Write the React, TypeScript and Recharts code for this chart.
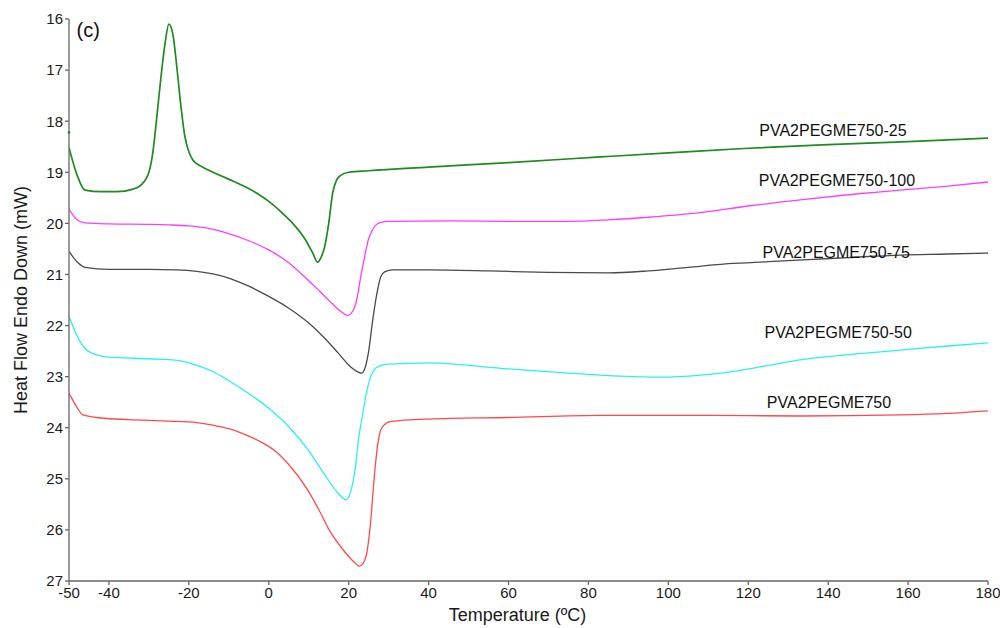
import { LineChart, Line, XAxis, YAxis, ReferenceDot } from 'recharts'

// --- Data ---

const xTicks = [-50, -40, -20, 0, 20, 40, 60, 80, 100, 120, 140, 160, 180]
const yTicks = [16, 17, 18, 19, 20, 21, 22, 23, 24, 25, 26, 27]

const greenT = [-50, -48, -46, -42, -38, -34, -32, -30, -29, -28, -27, -26, -25, -24, -23, -22, -21, -20, -19, -17, -15, -12, -9, -6, -3, 0, 3, 6, 9, 11, 12.2, 13, 14, 15, 16, 17, 18, 20, 25, 40, 60, 83, 100, 120, 140, 160, 180]
const greenV = [18.52, 19.05, 19.35, 19.38, 19.38, 19.33, 19.25, 19.0, 18.6, 17.9, 17.15, 16.5, 16.1, 16.3, 16.95, 17.7, 18.3, 18.6, 18.76, 18.88, 18.96, 19.07, 19.17, 19.28, 19.41, 19.57, 19.77, 20.0, 20.3, 20.58, 20.76, 20.68, 20.45, 20.0, 19.4, 19.15, 19.06, 19.0, 18.97, 18.9, 18.81, 18.7, 18.62, 18.53, 18.46, 18.4, 18.33]

const magentaT = [-50, -48, -46, -40, -30, -25, -20, -15, -10, -5, 0, 5, 9, 13, 16, 18, 19.7, 21, 22, 23, 24, 25, 26, 27, 28, 30, 45, 60, 75, 85, 95, 108, 120, 133, 145, 158, 170, 180]
const magentaV = [19.72, 19.93, 19.99, 20.01, 20.02, 20.03, 20.05, 20.1, 20.2, 20.34, 20.52, 20.77, 21.05, 21.35, 21.58, 21.72, 21.8, 21.72, 21.5, 21.05, 20.65, 20.3, 20.12, 20.02, 19.98, 19.96, 19.95, 19.96, 19.96, 19.93, 19.88, 19.79, 19.66, 19.54, 19.44, 19.35, 19.27, 19.19]

const blackT = [-50, -48, -46, -40, -30, -23, -18, -14, -10, -5, 0, 5, 10, 14, 17.5, 20.5, 23.2, 24, 25, 26, 27, 28, 29, 31, 40, 55, 70, 85, 95, 105, 115, 125, 135, 145, 158, 170, 180]
const blackV = [20.55, 20.75, 20.86, 20.9, 20.9, 20.91, 20.94, 20.99, 21.07, 21.23, 21.43, 21.66, 21.95, 22.25, 22.55, 22.81, 22.93, 22.85, 22.5, 21.9, 21.4, 21.05, 20.95, 20.91, 20.91, 20.93, 20.96, 20.97, 20.93, 20.86, 20.79, 20.75, 20.71, 20.67, 20.62, 20.6, 20.58]

const cyanT = [-50, -48, -46, -44, -40, -30, -23, -18, -14, -10, -5, 0, 5, 10, 14, 17, 19.4, 20.5, 21.7, 22.5, 23.4, 24.5, 25.5, 27, 29, 40, 60, 75, 88, 98, 108, 116, 125, 133, 145, 158, 170, 180]
const cyanV = [21.82, 22.2, 22.45, 22.55, 22.62, 22.65, 22.68, 22.78, 22.9, 23.08, 23.33, 23.62, 23.98, 24.45, 24.92, 25.25, 25.41, 25.25, 24.76, 24.2, 23.78, 23.3, 23.0, 22.82, 22.76, 22.73, 22.85, 22.93, 22.99, 23.01, 22.97, 22.9, 22.78, 22.67, 22.57, 22.48, 22.4, 22.34]

const redT = [-50, -48, -46.5, -42, -35, -25, -18, -14, -10, -7, -4, -1, 2, 5, 9.6, 12.5, 15.4, 18, 20, 21.5, 22.7, 23.6, 24.4, 25, 25.6, 26.2, 27.1, 27.8, 28.6, 30.4, 40, 60, 83, 110, 133, 158, 170, 180]
const redV = [23.32, 23.6, 23.75, 23.81, 23.84, 23.87, 23.9, 23.95, 24.02, 24.1, 24.2, 24.32, 24.48, 24.72, 25.2, 25.6, 26.04, 26.33, 26.52, 26.64, 26.71, 26.66, 26.5, 26.2, 25.75, 25.15, 24.43, 24.1, 23.97, 23.88, 23.83, 23.8, 23.76, 23.76, 23.77, 23.75, 23.72, 23.67]

const seriesNames = ['PVA2PEGME750-25', 'PVA2PEGME750-100', 'PVA2PEGME750-75', 'PVA2PEGME750-50', 'PVA2PEGME750']
const labelT = [141.2, 142.2, 142, 142.5, 140.2]
const labelV = [18.17, 19.15, 20.56, 22.14, 23.51]

// --- Helpers ---

function toPoints(t: number[], v: number[]) {
  return t.map((x, i) => ({ t: x, v: v[i] }))
}

const series = [
  { name: seriesNames[0], color: '#1f8a1f', width: 1.7, data: toPoints(greenT, greenV) },
  { name: seriesNames[1], color: '#ff3cff', width: 1.3, data: toPoints(magentaT, magentaV) },
  { name: seriesNames[2], color: '#4a4a4a', width: 1.3, data: toPoints(blackT, blackV) },
  { name: seriesNames[3], color: '#2af0f0', width: 1.3, data: toPoints(cyanT, cyanV) },
  { name: seriesNames[4], color: '#ff4a4a', width: 1.3, data: toPoints(redT, redV) },
]

const FONT = '"Liberation Sans", Arial, sans-serif'
const AXIS = '#666'

export default function App() {
  return (
    <div style={{ position: 'absolute', left: 0, top: 0, background: '#fff', fontFamily: FONT }}>
      <LineChart width={1000} height={628} margin={{ top: 19, right: 12, left: 0, bottom: 0 }}>
        <XAxis
          type="number"
          dataKey="t"
          domain={[-50, 180]}
          ticks={xTicks}
          allowDataOverflow
          height={47}
          stroke={AXIS}
          strokeWidth={1.3}
          tickSize={4}
          tick={{ fontSize: 15, fill: '#1a1a1a', fontFamily: FONT }}
          label={{
            value: 'Temperature (ºC)',
            position: 'insideBottom',
            offset: 7,
            dx: -11,
            style: { fontSize: 18, fill: '#1a1a1a', fontFamily: FONT },
          }}
        />
        <YAxis
          type="number"
          domain={[16, 27]}
          ticks={yTicks}
          reversed
          allowDataOverflow
          width={69}
          stroke={AXIS}
          strokeWidth={1.3}
          tickSize={4}
          tick={{ fontSize: 15, fill: '#1a1a1a', fontFamily: FONT }}
          label={{
            value: 'Heat Flow Endo Down (mW)',
            angle: -90,
            position: 'insideLeft',
            offset: 21,
            style: { fontSize: 18, fill: '#1a1a1a', fontFamily: FONT, textAnchor: 'middle' },
          }}
        />
        {series.map(s => (
          <Line
            key={s.name}
            data={s.data}
            dataKey="v"
            name={s.name}
            type="monotone"
            stroke={s.color}
            strokeWidth={s.width}
            dot={false}
            isAnimationActive={false}
          />
        ))}
        <ReferenceDot x={-50} y={18.22} r={1.3} fill="#1f8a1f" stroke="none" />
        {seriesNames.map((n, i) => (
          <ReferenceDot
            key={n}
            x={labelT[i]}
            y={labelV[i]}
            r={0}
            stroke="none"
            label={{ value: n, position: 'center', style: { fontSize: 16, fill: '#111', fontFamily: FONT } }}
          />
        ))}
        <ReferenceDot
          x={-45.2}
          y={16.21}
          r={0}
          stroke="none"
          label={{ value: '(c)', position: 'center', style: { fontSize: 20, fill: '#111', fontFamily: FONT } }}
        />
      </LineChart>
    </div>
  )
}
